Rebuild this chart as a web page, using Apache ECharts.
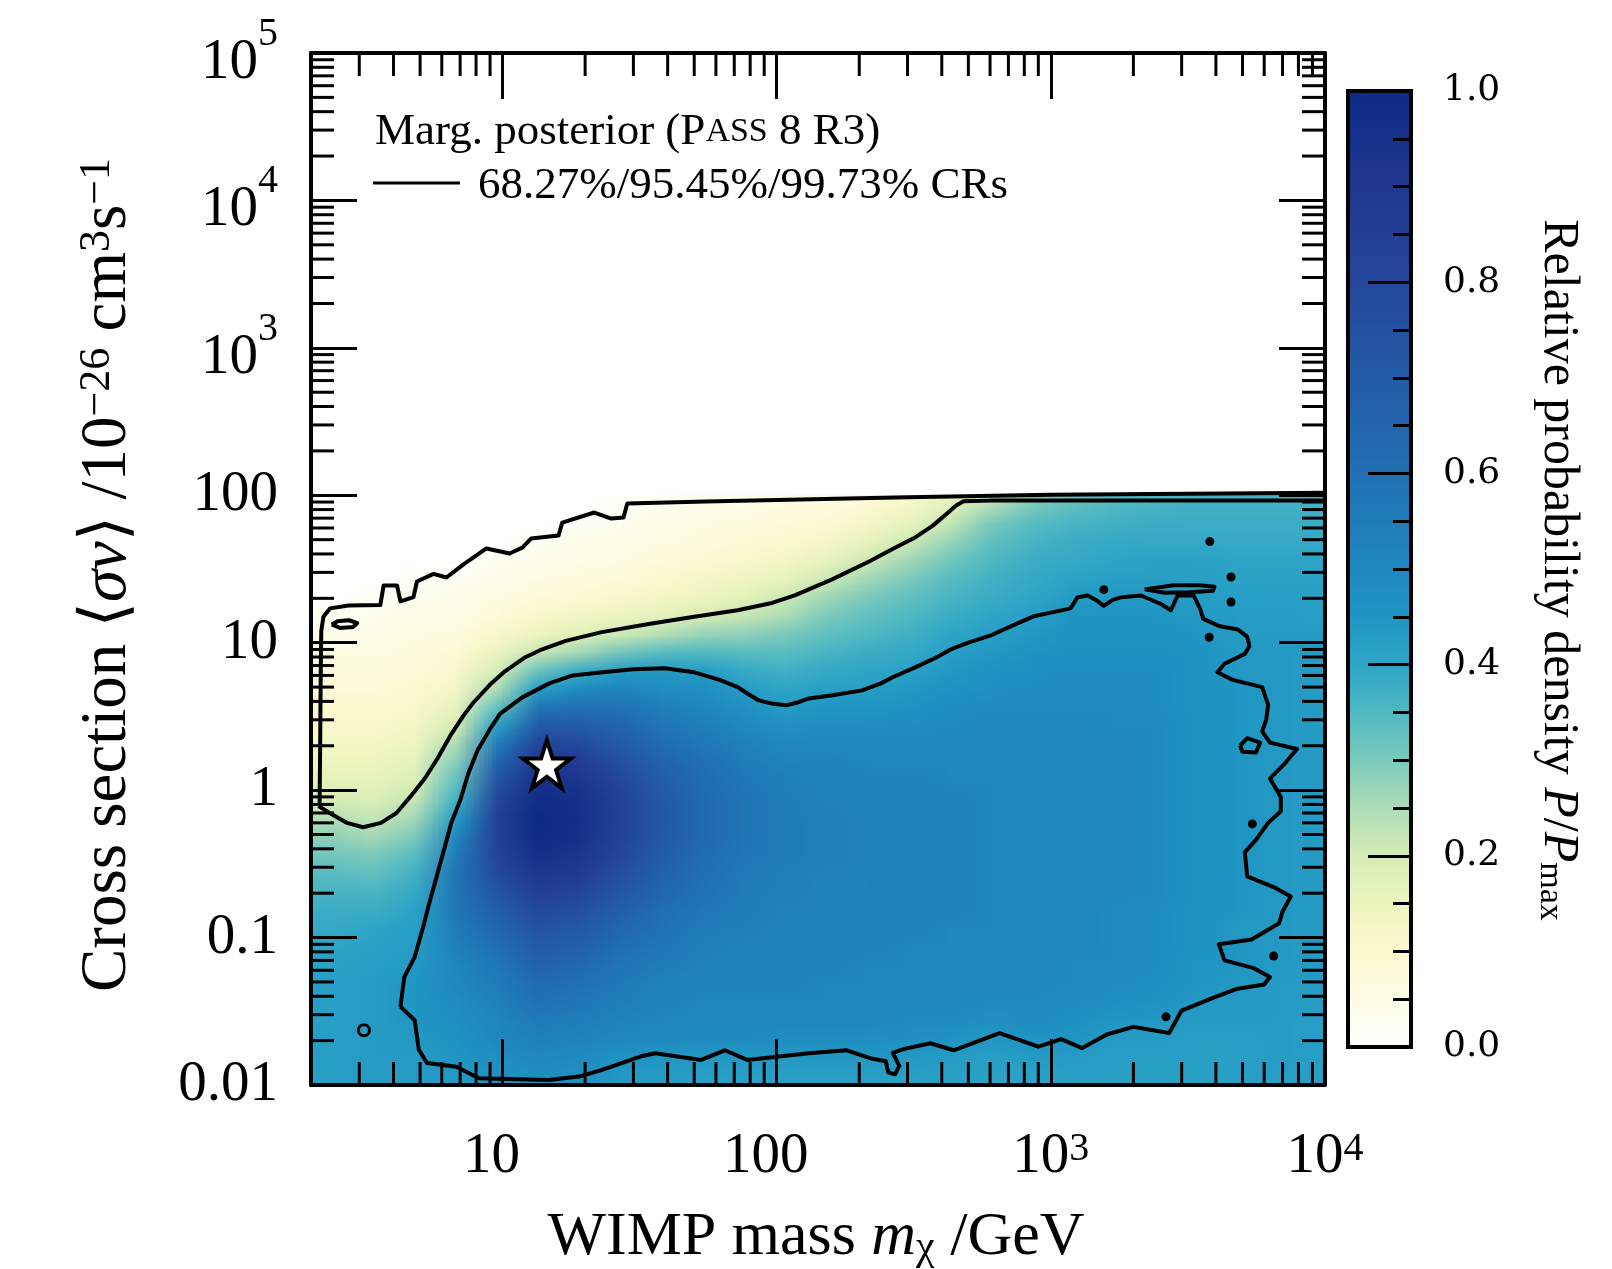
<!DOCTYPE html>
<html>
<head>
<meta charset="utf-8">
<title>WIMP posterior</title>
<script src="https://cdn.jsdelivr.net/npm/echarts@6/dist/echarts.min.js"></script>
<style>
html, body { margin: 0; padding: 0; background: #fff; }
#main { width: 1612px; height: 1269px; }
</style>
</head>
<body>
<div id="main"></div>
<script>
var myChart = echarts.init(document.getElementById('main'));

// heatmap bins, log10 of the bin centres
const massLog = [0.375, 0.525, 0.675, 0.825, 0.975, 1.125, 1.275, 1.425, 1.575, 1.725, 1.875, 2.025, 2.175,
    2.325, 2.475, 2.625, 2.775, 2.925, 3.075, 3.225, 3.375, 3.525, 3.675, 3.825, 3.975];
const sigmaLog = [1.9375, 1.8125, 1.6875, 1.5625, 1.4375, 1.3125, 1.1875, 1.0625, 0.9375, 0.8125, 0.6875, 0.5625,
    0.4375, 0.3125, 0.1875, 0.0625, -0.0625, -0.1875, -0.3125, -0.4375, -0.5625, -0.6875, -0.8125, -0.9375,
    -1.0625, -1.1875, -1.3125, -1.4375, -1.5625, -1.6875, -1.8125, -1.9375];

// P/Pmax, one list per mass bin (top to bottom in cross section)
const density = [
    [0, 0, 0, 0, 0, 0, .03, .04, .06, .07, .08, .1, .11, .13, .15, .17, .2, .24, .28, .31, .34, .36, .38, .39, .4, .41, .42, .42, .42, .42, .42, .42],
    [0, 0, 0, 0, 0, .02, .03, .05, .06, .07, .08, .1, .11, .13, .15, .17, .19, .22, .26, .3, .33, .36, .38, .4, .41, .42, .43, .43, .43, .43, .43, .43],
    [0, 0, 0, 0, .02, .03, .05, .06, .07, .08, .1, .11, .13, .15, .17, .19, .22, .26, .3, .34, .37, .39, .41, .42, .43, .44, .45, .45, .45, .44, .43, .43],
    [0, 0, 0, 0, .03, .04, .05, .07, .09, .11, .13, .16, .2, .25, .29, .33, .37, .43, .5, .55, .58, .58, .57, .55, .53, .51, .5, .48, .47, .46, .45, .44],
    [0, 0, 0, .03, .04, .06, .08, .11, .15, .2, .25, .33, .42, .55, .65, .74, .8, .84, .84, .82, .78, .73, .68, .64, .6, .57, .55, .53, .51, .5, .48, .46],
    [0, 0, .03, .04, .06, .08, .11, .15, .22, .32, .43, .58, .7, .82, .9, .95, .98, 1.0, .99, .96, .91, .85, .79, .74, .7, .66, .62, .59, .56, .53, .5, .48],
    [0, .02, .04, .05, .07, .09, .13, .18, .26, .38, .49, .6, .7, .79, .87, .92, .95, .96, .95, .92, .88, .82, .76, .71, .67, .63, .6, .57, .54, .52, .49, .47],
    [.02, .03, .05, .06, .08, .11, .15, .21, .31, .43, .52, .59, .65, .7, .76, .8, .83, .84, .83, .8, .76, .72, .68, .64, .61, .58, .56, .54, .52, .5, .46, .44],
    [.03, .05, .06, .08, .1, .13, .17, .24, .34, .44, .48, .54, .58, .62, .66, .69, .71, .72, .71, .69, .67, .64, .61, .59, .57, .55, .53, .52, .51, .5, .45, .43],
    [.04, .06, .07, .09, .12, .15, .2, .27, .35, .43, .48, .51, .54, .57, .6, .62, .63, .63, .63, .62, .6, .59, .57, .55, .54, .53, .52, .51, .5, .49, .44, .42],
    [.05, .07, .09, .11, .14, .17, .22, .28, .34, .39, .43, .47, .5, .53, .55, .57, .58, .58, .58, .57, .56, .55, .55, .54, .53, .52, .52, .51, .5, .49, .44, .42],
    [.06, .08, .1, .13, .16, .21, .25, .3, .34, .37, .4, .43, .47, .5, .52, .54, .55, .55, .55, .55, .54, .54, .53, .53, .52, .52, .52, .51, .5, .48, .44, .42],
    [.07, .09, .12, .16, .21, .26, .3, .33, .36, .39, .42, .45, .48, .5, .52, .53, .53, .54, .54, .54, .53, .53, .53, .53, .52, .52, .51, .51, .5, .48, .44, .42],
    [.09, .12, .16, .21, .26, .3, .33, .35, .38, .4, .42, .45, .48, .5, .51, .52, .53, .53, .53, .53, .53, .53, .52, .52, .52, .51, .51, .5, .5, .48, .44, .42],
    [.12, .16, .21, .26, .3, .33, .35, .37, .39, .41, .44, .46, .48, .5, .51, .52, .52, .52, .52, .52, .52, .52, .52, .52, .51, .51, .5, .5, .49, .47, .44, .42],
    [.17, .22, .27, .31, .34, .36, .38, .4, .42, .44, .46, .48, .49, .5, .51, .51, .52, .52, .52, .52, .52, .52, .52, .51, .51, .51, .5, .5, .49, .46, .43, .42],
    [.24, .3, .33, .35, .37, .38, .4, .42, .44, .46, .47, .49, .5, .5, .51, .51, .51, .51, .51, .51, .51, .51, .51, .51, .51, .5, .5, .49, .47, .44, .42, .41],
    [.3, .34, .36, .38, .39, .4, .42, .44, .46, .47, .48, .49, .5, .5, .5, .51, .51, .51, .51, .51, .51, .51, .51, .51, .5, .5, .5, .49, .48, .46, .43, .41],
    [.33, .36, .38, .39, .41, .43, .45, .46, .47, .48, .49, .49, .5, .5, .5, .5, .5, .5, .5, .5, .5, .5, .5, .5, .5, .49, .49, .48, .47, .45, .43, .42],
    [.35, .37, .39, .4, .42, .44, .45, .46, .47, .48, .49, .49, .49, .5, .5, .5, .5, .5, .5, .5, .5, .5, .49, .49, .49, .49, .48, .47, .45, .43, .42, .42],
    [.36, .38, .39, .41, .42, .44, .45, .46, .47, .48, .48, .48, .49, .49, .49, .49, .49, .49, .49, .49, .49, .49, .48, .48, .48, .48, .47, .46, .44, .43, .42, .42],
    [.37, .38, .39, .41, .42, .43, .44, .45, .46, .46, .46, .46, .46, .46, .46, .46, .46, .46, .46, .46, .46, .46, .46, .46, .46, .45, .45, .44, .43, .42, .42, .42],
    [.37, .38, .39, .4, .41, .42, .43, .43, .44, .44, .45, .45, .45, .45, .45, .45, .45, .45, .45, .45, .45, .45, .45, .44, .45, .45, .44, .44, .43, .42, .42, .42],
    [.37, .38, .39, .4, .41, .42, .43, .43, .44, .44, .44, .44, .44, .44, .44, .44, .44, .44, .44, .44, .44, .44, .44, .44, .44, .44, .43, .43, .43, .43, .43, .42],
    [.37, .38, .39, .4, .41, .42, .42, .43, .43, .43, .43, .43, .43, .43, .43, .43, .43, .43, .43, .43, .43, .43, .43, .43, .43, .43, .43, .43, .42, .42, .42, .42]
];

// credible region contours [mass GeV, cross section]
const cr68 = [[4.24, 0.034], [4.38, 0.054], [4.78, 0.074], [5.13, 0.118], [5.4, 0.171], [5.75, 0.26], [6.1, 0.39],
    [6.5, 0.6], [7.0, 0.85], [7.5, 1.3], [8.1, 1.86], [9, 2.6], [9.8, 3.3], [11.8, 4.26], [14.8, 5.3], [18, 6.0],
    [23.2, 6.3], [30, 6.6], [39, 6.7], [50, 6.3], [62, 5.6], [72, 5.0], [80, 4.4], [86, 4.06], [97, 3.85], [108, 3.76],
    [120, 3.95], [131, 4.19], [160, 4.4], [205, 4.75], [240, 5.3], [266, 5.85], [320, 6.8], [380, 7.9], [431, 9.0],
    [500, 10], [603, 11.2], [720, 13], [865, 15.1], [1000, 16], [1180, 17.1], [1250, 20.3], [1360, 20.9], [1460, 19.5],
    [1560, 17.8], [1680, 19.5], [1800, 20.3], [2130, 20.9], [2520, 18.3], [2740, 16.6], [2900, 20.9], [3320, 20.9],
    [3500, 17], [3600, 14.5], [4100, 13], [4800, 12.3], [5200, 11], [5300, 9.5], [5100, 8.4], [4300, 7.2], [4050, 6.3],
    [4600, 5.6], [5900, 5.0], [6200, 3.8], [6100, 3.0], [5900, 2.5], [6300, 2.1], [7900, 1.9], [7100, 1.5], [6300, 1.2],
    [6900, 0.9], [6900, 0.72], [6200, 0.6], [5600, 0.46], [5100, 0.38], [5200, 0.26], [6500, 0.22], [7500, 0.19],
    [7000, 0.15], [6800, 0.125], [5400, 0.097], [4100, 0.09], [4300, 0.07], [5500, 0.062], [6300, 0.054], [6000, 0.048],
    [4800, 0.045], [3900, 0.039], [3000, 0.032], [2700, 0.0225], [2000, 0.0248], [1600, 0.022], [1300, 0.0178],
    [1090, 0.0205], [900, 0.0182], [650, 0.0225], [442, 0.0172], [363, 0.0192], [290, 0.0175], [265, 0.0165],
    [280, 0.0135], [270, 0.0118], [255, 0.0122], [250, 0.0145], [219, 0.0152], [180, 0.0172], [131, 0.0164],
    [78, 0.0148], [64.6, 0.0172], [53, 0.0148], [36, 0.0164], [31.8, 0.0156], [22.9, 0.0126], [19, 0.0114],
    [14.7, 0.0108], [8.2, 0.0111], [6.78, 0.0133], [5.3, 0.0141], [4.95, 0.0173], [4.78, 0.0275], [4.24, 0.034]];
const cr95 = [[2.13, 0.78], [2.4, 0.68], [2.7, 0.6], [3.1, 0.56], [3.6, 0.6], [4.1, 0.7], [4.6, 0.9], [5.2, 1.2],
    [5.8, 1.65], [6.5, 2.4], [7.2, 3.2], [7.8, 3.9], [9, 5.2], [10.2, 6.4], [12, 7.9], [13.7, 8.9], [17, 10.3],
    [23, 11.8], [35, 13.5], [50, 15], [72, 16.6], [95, 18.5], [117, 21], [160, 27], [220, 36], [270, 44], [321, 52],
    [370, 62], [417, 75], [450, 85], [480, 91], [600, 92], [1000, 92], [3000, 92], [10000, 92]];
const cr99 = [[2.15, 0.8], [2.16, 2], [2.17, 6], [2.18, 12], [2.22, 15], [2.35, 17.1], [2.74, 17.9], [3.58, 18.0],
    [3.68, 24.4], [4.12, 24.4], [4.24, 19.1], [4.73, 20.4], [4.87, 26], [5.6, 29.3], [6.24, 27.7], [7.2, 34],
    [8.73, 43.6], [10.6, 40.3], [11.8, 44.2], [12.7, 50.9], [16.0, 53.3], [16.5, 65.3], [21.6, 76.4], [24.9, 69.5],
    [27.6, 70.6], [28.5, 87.9], [55, 90.6], [100, 93], [300, 97], [1000, 101], [10000, 104]];
// small closed islands
const island99 = [[2.38, 13.3], [2.5, 14.0], [2.75, 14.2], [2.95, 13.6], [2.85, 12.8], [2.55, 12.6], [2.38, 13.3]];
const island68a = [[4900, 2.0], [5200, 2.25], [5800, 2.1], [5600, 1.8], [5000, 1.82], [4900, 2.0]];
const island68b = [[2200, 23], [2800, 24.5], [3500, 24.5], [3950, 24], [3900, 22.5], [3200, 22], [2600, 21.8], [2200, 23]];
const specks = [[3800, 48.5], [4540, 27.9], [4540, 18.9], [3780, 10.9], [1560, 22.9], [5430, 0.59], [6500, 0.075], [2630, 0.029]];
const ring = [[3.12, 0.0235]];
const bestFit = [[14.5, 1.5]];

// axis labels per decade
const xTickBase = ['10', '100', '10', '10'];           // 10^1 .. 10^4
const xTickExp = ['', '', '3', '4'];
const yTickBase = ['0.01', '0.1', '1', '10', '100', '10', '10', '10'];   // 10^-2 .. 10^5
const yTickExp = ['', '', '', '', '', '3', '4', '5'];
const minorMult = [2, 3, 4, 5, 6, 7, 8, 9];
const xDecades = [1, 10, 100, 1000];
const yDecades = [0.01, 0.1, 1, 10, 100, 1000, 10000];

const cmap = ['#ffffff', '#fefde6', '#fcf9cf', '#eef5bf', '#d6edb5', '#aedcb6', '#7ccabc', '#50b9c2', '#2ea5c7',
    '#2096c3', '#1f88bf', '#207cb9', '#2170b3', '#2265ad', '#235ba7', '#2451a1', '#24479b', '#233f95', '#1f378f',
    '#17318a', '#0e2b84'];

const serif = '"Liberation Serif", "DejaVu Serif", serif';

const cells = [];
massLog.forEach(function (lx, i) {
    sigmaLog.forEach(function (ly, j) {
        cells.push([Math.pow(10, lx), Math.pow(10, ly), density[i][j], i, j]);
    });
});
const halfX = (massLog[1] - massLog[0]) / 2;
const halfY = (sigmaLog[0] - sigmaLog[1]) / 2;

const xMinor = [];
xDecades.forEach(function (d) { minorMult.forEach(function (m) { if (d * m > 2) xMinor.push([d * m, 1]); }); });
const yMinor = [];
yDecades.forEach(function (d) { minorMult.forEach(function (m) { yMinor.push([3, d * m]); }); });

function csRect(params) {
    return { x: params.coordSys.x, y: params.coordSys.y, width: params.coordSys.width, height: params.coordSys.height };
}

// every bin gets its visualMap colour as one pixel; the pixel image is then
// stretched over the bin extent (smoothed like a shaded pcolormesh)
const heatCanvas = document.createElement('canvas');
heatCanvas.width = massLog.length;
heatCanvas.height = sigmaLog.length;
const heatCtx = heatCanvas.getContext('2d');

function renderHeat(params, api) {
    heatCtx.fillStyle = api.value(2) > 0 ? api.visual('color') : '#ffffff';
    heatCtx.fillRect(api.value(3), api.value(4), 1, 1);
    if (params.dataIndex !== 0) return null;
    const a = api.coord([Math.pow(10, massLog[0] - halfX), Math.pow(10, sigmaLog[0] + halfY)]);
    const b = api.coord([Math.pow(10, massLog[massLog.length - 1] + halfX),
        Math.pow(10, sigmaLog[sigmaLog.length - 1] - halfY)]);
    return {
        type: 'image',
        style: { image: heatCanvas, x: a[0], y: a[1], width: b[0] - a[0], height: b[1] - a[1] },
        clipPath: { type: 'rect', shape: csRect(params) }
    };
}

const tickStyle = { stroke: '#000', lineWidth: 3 };
const minorLen = 23;

function renderXMinor(params, api) {
    const cs = csRect(params);
    const px = api.coord([api.value(0), 1])[0];
    return { type: 'group', children: [
        { type: 'line', shape: { x1: px, y1: cs.y + cs.height, x2: px, y2: cs.y + cs.height - minorLen }, style: tickStyle },
        { type: 'line', shape: { x1: px, y1: cs.y, x2: px, y2: cs.y + minorLen }, style: tickStyle }
    ] };
}

function renderYMinor(params, api) {
    const cs = csRect(params);
    const py = api.coord([3, api.value(1)])[1];
    return { type: 'group', children: [
        { type: 'line', shape: { x1: cs.x, y1: py, x2: cs.x + minorLen, y2: py }, style: tickStyle },
        { type: 'line', shape: { x1: cs.x + cs.width, y1: py, x2: cs.x + cs.width - minorLen, y2: py }, style: tickStyle }
    ] };
}

function renderColorbar(params, api) {
    const a = api.coord([0, 1]);
    const b = api.coord([1, 0]);
    const stops = cmap.map(function (c, i) { return { offset: i / (cmap.length - 1), color: c }; });
    return { type: 'rect', shape: { x: a[0], y: a[1], width: b[0] - a[0], height: b[1] - a[1] },
        style: { fill: new echarts.graphic.LinearGradient(0, 1, 0, 0, stops), stroke: '#000', lineWidth: 4 } };
}

function contour(data) {
    return { type: 'line', data: data, showSymbol: false, symbol: 'none', silent: true, z: 3, clip: true,
        lineStyle: { color: '#000', width: 4, join: 'round' } };
}

const axisLine = { show: true, onZero: false, lineStyle: { color: '#000', width: 4 } };
const majorTick = { show: true, inside: true, length: 46, lineStyle: { color: '#000', width: 3 } };

const option = {
    animation: false,
    backgroundColor: '#fff',
    grid: [
        { left: 311, top: 53, width: 1014, height: 1032, outerBoundsMode: 'none' },
        { left: 1348, top: 91, width: 63, height: 956, outerBoundsMode: 'none' }
    ],
    visualMap: {
        type: 'continuous', show: false, min: 0, max: 1, dimension: 2, seriesIndex: 0,
        inRange: { color: cmap }
    },
    xAxis: [
        {
            type: 'log', gridIndex: 0, min: 2, max: 10000, position: 'bottom', z: 10,
            axisLine: axisLine, axisTick: majorTick, splitLine: { show: false },
            axisLabel: {
                margin: 44, showMinLabel: false, color: '#000',
                formatter: function (v) {
                    const i = Math.round(Math.log10(v)) - 1;
                    if (i < 0 || i >= xTickBase.length) return '';
                    return xTickExp[i] ? '{b|' + xTickBase[i] + '}{s|' + xTickExp[i] + '}' : '{b|' + xTickBase[i] + '}{g| }';
                },
                rich: {
                    b: { fontFamily: serif, fontSize: 57, color: '#000' },
                    s: { fontFamily: serif, fontSize: 40, color: '#000', verticalAlign: 'top' },
                    g: { width: 22, fontSize: 57 }
                }
            }
        },
        {
            type: 'log', gridIndex: 0, min: 2, max: 10000, position: 'top', z: 10,
            axisLine: axisLine, axisTick: majorTick, splitLine: { show: false }, axisLabel: { show: false }
        },
        { type: 'value', gridIndex: 1, min: 0, max: 1, show: false }
    ],
    yAxis: [
        {
            type: 'log', gridIndex: 0, min: 0.01, max: 100000, position: 'left', z: 10,
            axisLine: axisLine, axisTick: majorTick, splitLine: { show: false },
            axisLabel: {
                margin: 33, color: '#000',
                formatter: function (v) {
                    const i = Math.round(Math.log10(v)) + 2;
                    if (i < 0 || i >= yTickBase.length) return '';
                    return yTickExp[i] ? '{e|' + yTickBase[i] + '}{s|' + yTickExp[i] + '}' : '{b|' + yTickBase[i] + '}';
                },
                rich: {
                    b: { fontFamily: serif, fontSize: 57, color: '#000' },
                    e: { fontFamily: serif, fontSize: 57, color: '#000', padding: [20, 0, 0, 0] },
                    s: { fontFamily: serif, fontSize: 40, color: '#000', verticalAlign: 'top' }
                }
            }
        },
        {
            type: 'log', gridIndex: 0, min: 0.01, max: 100000, position: 'right', z: 10,
            axisLine: axisLine, axisTick: majorTick, splitLine: { show: false }, axisLabel: { show: false }
        },
        {
            type: 'value', gridIndex: 1, min: 0, max: 1, interval: 0.2, position: 'right', z: 10,
            axisLine: axisLine,
            axisTick: { show: true, inside: true, length: 43, lineStyle: { color: '#000', width: 3 } },
            minorTick: { show: true, splitNumber: 4, length: 18, lineStyle: { color: '#000', width: 3 } },
            splitLine: { show: false },
            axisLabel: {
                margin: 32, color: '#000', fontFamily: '"DejaVu Serif", serif', fontSize: 36,
                padding: [10, 0, 0, 0],
                formatter: function (v) { return v.toFixed(1); }
            }
        }
    ],
    series: [
        {
            type: 'custom', xAxisIndex: 0, yAxisIndex: 0, data: cells, renderItem: renderHeat, z: 1, silent: true,
            encode: { x: 0, y: 1 }
        },
        contour(cr99),
        contour(cr95),
        contour(cr68),
        contour(island99),
        contour(island68a),
        contour(island68b),
        {
            type: 'scatter', data: specks, symbol: 'circle', symbolSize: 9, z: 3, silent: true,
            itemStyle: { color: '#000', opacity: 1 }
        },
        {
            type: 'scatter', data: ring, symbol: 'circle', symbolSize: 11, z: 3, silent: true,
            itemStyle: { color: 'rgba(0,0,0,0)', borderColor: '#000', borderWidth: 3, opacity: 1 }
        },
        { type: 'custom', data: xMinor, renderItem: renderXMinor, z: 4, silent: true, encode: { x: 0, y: 1 } },
        { type: 'custom', data: yMinor, renderItem: renderYMinor, z: 4, silent: true, encode: { x: 0, y: 1 } },
        {
            type: 'scatter', data: bestFit, z: 5, silent: true, symbolSize: 48,
            symbol: 'path://M50,2 L61.8,37.6 L99,37.6 L68.8,59.6 L80.3,95 L50,73.1 L19.7,95 L31.2,59.6 L1,37.6 L38.2,37.6 Z',
            itemStyle: { color: '#ffffff', borderColor: '#000', borderWidth: 4, opacity: 1 }
        },
        {
            type: 'custom', xAxisIndex: 2, yAxisIndex: 2, data: [[0, 0]], renderItem: renderColorbar, z: 1,
            silent: true, encode: { x: 0, y: 1 }
        }
    ],
    graphic: [
        {
            type: 'text', left: 375, top: 110, z: 20,
            style: {
                text: 'Marg. posterior (P{sc|ASS} 8 R3)', fontFamily: serif, fontSize: 45, fill: '#000',
                rich: { sc: { fontFamily: serif, fontSize: 34, fill: '#000' } }
            }
        },
        {
            type: 'line', z: 20, shape: { x1: 373, y1: 183, x2: 460, y2: 183 },
            style: { stroke: '#000', lineWidth: 3 }
        },
        {
            type: 'text', left: 478, top: 164, z: 20,
            style: { text: '68.27%/95.45%/99.73% CRs', fontFamily: serif, fontSize: 45, fill: '#000' }
        },
        {
            type: 'text', x: 108, y: 575, rotation: Math.PI / 2, z: 20,
            style: {
                text: 'Cross section \u27e8{it|\u03c3v}\u27e9 /10{sup|\u221226} cm{sup|3}s{sup|\u22121}',
                fontFamily: serif, fontSize: 65, fill: '#000', align: 'center', verticalAlign: 'middle',
                rich: {
                    it: { fontFamily: serif, fontSize: 65, fontStyle: 'italic', fill: '#000' },
                    sup: { fontFamily: serif, fontSize: 44, fill: '#000', verticalAlign: 'top' }
                }
            }
        },
        {
            type: 'text', x: 816, y: 1238, z: 20,
            style: {
                text: 'WIMP mass {it|m}{sub|\u03c7} /GeV',
                fontFamily: serif, fontSize: 62, fill: '#000', align: 'center', verticalAlign: 'middle',
                rich: {
                    it: { fontFamily: serif, fontSize: 62, fontStyle: 'italic', fill: '#000' },
                    sub: { fontFamily: serif, fontSize: 42, fill: '#000', verticalAlign: 'bottom' }
                }
            }
        },
        {
            type: 'text', x: 1558, y: 570, rotation: -Math.PI / 2, z: 20,
            style: {
                text: 'Relative probability density {it|P}/{it|P}{sub|max}',
                fontFamily: serif, fontSize: 50, fill: '#000', align: 'center', verticalAlign: 'middle',
                rich: {
                    it: { fontFamily: serif, fontSize: 50, fontStyle: 'italic', fill: '#000' },
                    sub: { fontFamily: serif, fontSize: 34, fill: '#000', verticalAlign: 'bottom' }
                }
            }
        }
    ]
};

myChart.setOption(option);
</script>
</body>
</html>
